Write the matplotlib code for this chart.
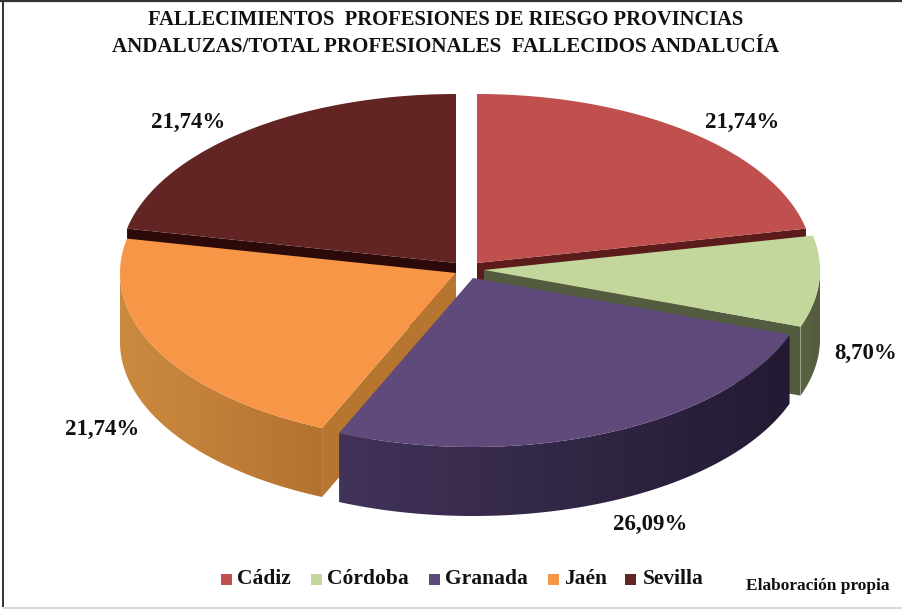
import numpy as np
import matplotlib
matplotlib.use("Agg")
import matplotlib.pyplot as plt
from matplotlib.colors import to_rgb
from matplotlib.patches import Polygon

categories = ["Cádiz", "Córdoba", "Granada", "Jaén", "Sevilla"]
values = [21.74, 8.70, 26.09, 21.74, 21.74]
title_lines = ["FALLECIMIENTOS  PROFESIONES DE RIESGO PROVINCIAS",
               "ANDALUZAS/TOTAL PROFESIONALES  FALLECIDOS ANDALUCÍA"]
credit = "Elaboración propia"

top_colors = ["#c0504d", "#c3d69b", "#604a7b", "#f79646", "#632523"]
cut_colors = ["#5c1c1b", "#535c3f", "#2a2040", "#b6762f", "#2b0a09"]
wall_left = ["#8a3a38", "#59633f", "#413359", "#cc8a40", "#4a1b1a"]
wall_right = ["#6a2a28", "#535c3f", "#241a33", "#b5722f", "#3a1514"]
apex = [(477, 263), (484, 270), (473, 278), (456, 273), (456, 263)]
label_xy = [(742, 122), (866, 353), (650, 524), (102, 429), (188, 122)]
legend_sq = [221, 311, 429, 548, 625]
legend_tx = [237, 327, 445, 564, 643]
draw_order = [4, 0, 1, 3, 2]
RX, RY, DEPTH = 336, 169, 69

plt.rcParams["font.family"] = ["Liberation Serif", "DejaVu Serif"]
fig = plt.figure(figsize=(9.02, 6.09), dpi=100, facecolor="white")
ax = fig.add_axes([0, 0, 1, 1])

fracs = np.array(values) / np.sum(values)
edges = np.concatenate([[0], np.cumsum(fracs)]) * 2 * np.pi


def point(c, t, dz=0):
    return c[0] + RX * np.sin(t), c[1] - RY * np.cos(t) + dz


for n, i in enumerate(draw_order):
    z = 2 + n
    c, t0, t1 = apex[i], edges[i], edges[i + 1]
    # straight cut walls that face the viewer
    for t, is_end in ((t0, False), (t1, True)):
        ex, ey = RX * np.sin(t), -RY * np.cos(t)
        ny = ex if is_end else -ex
        if ny > 0:
            x, y = c[0] + ex, c[1] + ey
            ax.fill([c[0], x, x, c[0]], [c[1], y, y + DEPTH, c[1] + DEPTH],
                    color=cut_colors[i], lw=0, zorder=z)
    # curved outer wall with a left-to-right gradient clipped to its outline
    a, b = max(t0, np.pi / 2), min(t1, 3 * np.pi / 2)
    if b > a:
        ts = np.linspace(a, b, 120)
        xs, ys = point(c, ts)
        outline = np.c_[np.r_[xs, xs[::-1]], np.r_[ys, ys[::-1] + DEPTH]]
        L, R = np.array(to_rgb(wall_left[i])), np.array(to_rgb(wall_right[i]))
        x_lo, x_hi = xs.min(), xs.max()
        grad = np.linspace(0, 1, 256)[None, :, None]
        img = L[None, None, :] + (R - L)[None, None, :] * grad
        im = ax.imshow(img, extent=(x_lo, x_hi, outline[:, 1].max() + 1,
                                    outline[:, 1].min() - 1),
                       aspect="auto", interpolation="bilinear", zorder=z)
        clip = Polygon(outline, closed=True, transform=ax.transData)
        im.set_clip_path(clip)
    # top face
    ts = np.linspace(t0, t1, 160)
    xs, ys = point(c, ts)
    ax.fill(np.r_[c[0], xs], np.r_[c[1], ys], color=top_colors[i], lw=0, zorder=z)

ax.set_xlim(0, 902)
ax.set_ylim(609, 0)
ax.axis("off")

for (x, y), v in zip(label_xy, values):
    ax.text(x, y, f"{v:.2f}%".replace(".", ","), ha="center", va="center",
            fontsize=16.5, fontweight="bold", color="#111111", zorder=20)

for y, line, size in zip((20, 47), title_lines, (14.8, 15.1)):
    ax.text(445.5, y, line, ha="center", va="center", fontsize=size,
            fontweight="bold", color="#111111", zorder=20)

for name, col, sx, tx in zip(categories, top_colors, legend_sq, legend_tx):
    ax.add_patch(plt.Rectangle((sx, 574), 11, 11, facecolor=col, edgecolor="none"))
    ax.text(tx, 579, name, ha="left", va="center", fontsize=15.5,
            fontweight="bold", color="#111111", zorder=20)
ax.text(746, 586, credit, ha="left", va="center", fontsize=12.5,
        fontweight="bold", color="#111111", zorder=20)

ax.plot([0, 902], [1.2, 1.2], color="#333333", lw=1.6, solid_capstyle="butt")
ax.plot([3.2, 3.2], [1, 607], color="#333333", lw=1.4, solid_capstyle="butt")
ax.plot([3, 902], [607.5, 607.5], color="#d8d8d8", lw=1.5, solid_capstyle="butt")

fig.savefig("out.png", dpi=100, facecolor="white")
